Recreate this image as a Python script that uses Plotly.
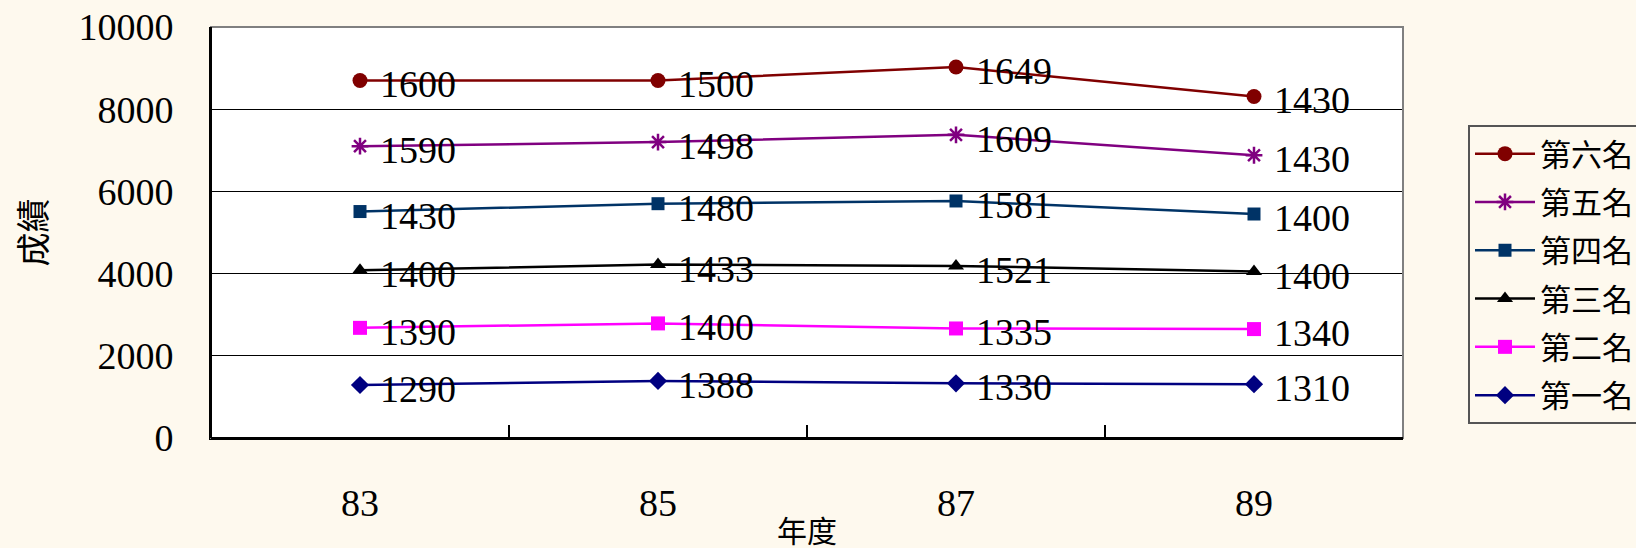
import numpy as np
import plotly.graph_objects as go

# Yearly scores per rank (stacked line chart)
years = ["83", "85", "87", "89"]
rank1 = [1290, 1388, 1330, 1310]
rank2 = [1390, 1400, 1335, 1340]
rank3 = [1400, 1433, 1521, 1400]
rank4 = [1430, 1480, 1581, 1400]
rank5 = [1590, 1498, 1609, 1430]
rank6 = [1600, 1500, 1649, 1430]

names = ["第一名", "第二名", "第三名", "第四名", "第五名", "第六名"]
series = [rank1, rank2, rank3, rank4, rank5, rank6]
colors = ["#000080", "#FF00FF", "#000000", "#003366", "#800080", "#800000"]
symbols = ["diamond", "square", "triangle-up", "square", "asterisk", "circle"]
sizes = [14, 14, 14, 13, 14, 15]

FONT = "Liberation Serif, Noto Sans CJK TC, serif"
BG = "#FEF9EE"

fig = go.Figure()
stack = np.cumsum(np.array(series, dtype=float), axis=0)
xpos = list(range(len(years)))

annotations = []
for i, (name, vals) in enumerate(zip(names, series)):
    for xi, yi, v in zip(xpos, stack[i], vals):
        annotations.append(dict(
            x=xi, y=yi, text=str(v), showarrow=False, xanchor="left",
            yanchor="middle", xshift=18, yshift=-4,
            font=dict(family=FONT, size=38, color="#000000"),
        ))

# top rank first so the legend lists 第六名 ... 第一名
for i in reversed(range(len(names))):
    marker = dict(symbol=symbols[i], size=sizes[i], color=colors[i])
    if symbols[i] == "asterisk":
        marker["line"] = dict(color=colors[i], width=2.5)
    fig.add_trace(go.Scatter(
        x=xpos, y=stack[i], name=names[i], mode="lines+markers",
        line=dict(color=colors[i], width=2.5),
        marker=marker, legendgroup=names[i],
    ))

fig.update_layout(
    width=1636, height=548,
    margin=dict(l=211, r=233, t=27, b=110, autoexpand=False),
    paper_bgcolor=BG, plot_bgcolor="#FFFFFF",
    font=dict(family=FONT, color="#000000"),
    showlegend=True,
    legend=dict(
        xref="container", yref="container",
        x=1468 / 1636, y=1 - 125 / 548, xanchor="left", yanchor="top",
        traceorder="grouped", tracegroupgap=5, maxheight=420,
        bgcolor=BG, bordercolor="#555555", borderwidth=2,
        font=dict(family=FONT, size=31, color="#000000"),
        itemwidth=60,
    ),
    annotations=annotations,
)

fig.update_xaxes(
    range=[-0.5, 3.5], tickmode="array", tickvals=xpos, ticktext=years,
    showgrid=False, zeroline=False, showline=True, linecolor="#000000",
    linewidth=2, tickfont=dict(family=FONT, size=38), ticklabelstandoff=30,
    ticks="", automargin=False,
    title=dict(text="年度", font=dict(family=FONT, size=30), standoff=0),
    minor=dict(tickvals=[0.5, 1.5, 2.5], ticks="inside", ticklen=13,
               tickcolor="#000000", tickwidth=1.5, showgrid=False),
)
fig.update_yaxes(
    range=[0, 10000], dtick=2000, tickformat="d", showgrid=True,
    gridcolor="#000000", gridwidth=1, zeroline=False, showline=True,
    linecolor="#000000", linewidth=2, ticks="inside", ticklen=14,
    tickcolor="#000000", automargin=False,
    tickfont=dict(family=FONT, size=38), ticklabelstandoff=28,
    title=dict(text="成績", font=dict(family=FONT, size=34), standoff=22),
)

# frame around the plotting area
fig.add_shape(type="rect", xref="paper", yref="paper", x0=0, y0=0, x1=1, y1=1,
              line=dict(color="#808080", width=2), layer="above")
fig.add_shape(type="line", xref="paper", yref="paper", x0=0, y0=0, x1=0, y1=1,
              line=dict(color="#000000", width=2), layer="above")
fig.add_shape(type="line", xref="paper", yref="paper", x0=0, y0=0, x1=1, y1=0,
              line=dict(color="#000000", width=2), layer="above")

fig.write_html("out.html")
